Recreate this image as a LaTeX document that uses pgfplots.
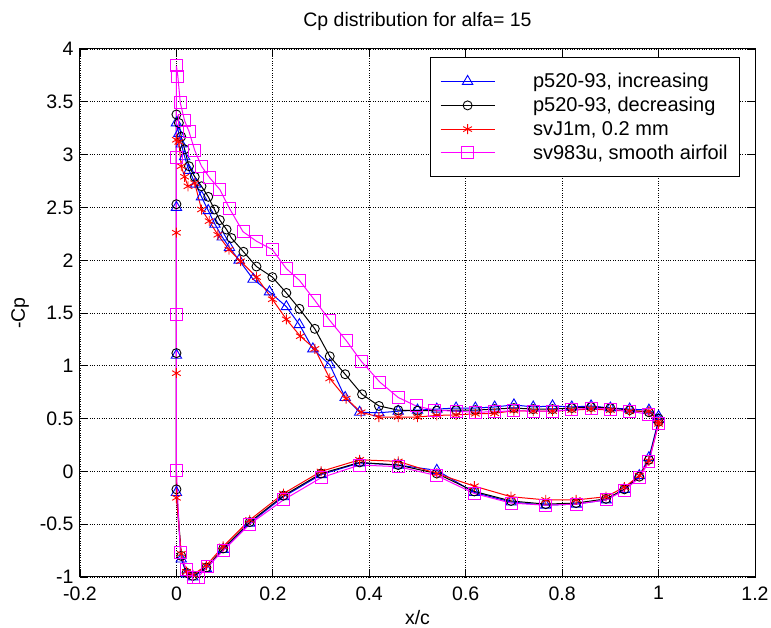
\documentclass[border=0pt]{standalone}
\usepackage{fontspec}
\setmainfont{Liberation Sans}
\usepackage{pgfplots}
\pgfplotsset{compat=1.18}
\definecolor{mag}{RGB}{255,0,255}
\begin{document}
\begin{tikzpicture}
\path[use as bounding box] (-80pt,-51pt) rectangle (691pt,577pt);
\begin{axis}[
  scale only axis, width=675pt, height=528pt,
  xmin=-0.2, xmax=1.2, ymin=-1, ymax=4,
  xtick={-0.2,0,0.2,0.4,0.6,0.8,1,1.2},
  ytick={-1,-0.5,0,0.5,1,1.5,2,2.5,3,3.5,4},
  grid=major, major grid style={black, dotted, line width=0.9pt},
  tick align=inside, major tick length=8pt,
  axis line style={line width=1pt},
  every tick/.style={black, line width=0.8pt},
  font=\fontsize{19.5}{23}\selectfont,
  ticklabel style={font=\fontsize{19.5}{23}\selectfont},
  xticklabel style={yshift=-6pt},
  yticklabel style={xshift=-3pt},
  /pgf/number format/assume math mode=true,
  title={Cp distribution for alfa= 15},
  title style={yshift=9pt},
  xlabel={x/c}, ylabel={-Cp},
  xlabel style={yshift=-3pt},
  ylabel style={yshift=4pt},
  legend style={at={(0.978,0.985)}, anchor=north east, draw=black, line width=1pt,
    font=\fontsize{20}{23}\selectfont, row sep=4pt, inner xsep=10pt, inner ysep=14pt},
  legend cell align=left,
  legend image code/.code={\draw[mark repeat=2,mark phase=2] plot coordinates {(0pt,0pt) (27pt,0pt) (54pt,0pt)};},
  every axis plot/.append style={line width=1pt},
]
\addplot[blue, mark=triangle, mark size=6pt, mark options={solid, line width=0.9pt}] coordinates {
(1.0,0.52)(0.98,0.58)(0.94,0.59)(0.90,0.60)(0.86,0.62)(0.82,0.61)(0.78,0.62)(0.74,0.61)(0.70,0.63)(0.66,0.61)(0.62,0.60)(0.58,0.60)(0.54,0.59)(0.50,0.58)(0.46,0.57)(0.42,0.555)(0.38,0.56)(0.35,0.70)(0.318,1.01)(0.283,1.16)(0.255,1.39)(0.228,1.56)(0.193,1.70)(0.159,1.82)(0.13,2.0)(0.11,2.12)(0.095,2.22)(0.08,2.34)(0.066,2.47)(0.052,2.60)(0.04,2.72)(0.026,2.85)(0.017,2.98)(0.01,3.1)(0.005,3.2)(0,3.3)(0,2.5)(0,1.1)(0,-0.2)
(0.01,-0.83)(0.021,-0.97)(0.034,-1.0)(0.062,-0.92)(0.097,-0.74)(0.152,-0.49)(0.222,-0.24)(0.30,-0.03)(0.38,0.08)(0.46,0.06)(0.54,0.01)(0.618,-0.20)(0.694,-0.29)(0.766,-0.32)(0.829,-0.31)(0.891,-0.27)(0.929,-0.17)(0.96,-0.04)(0.98,0.13)(1.0,0.49)};
\addlegendentry{\hspace{36pt}p520-93, increasing}
\addplot[black, mark=o, mark size=4.5pt, mark options={solid, line width=0.9pt}] coordinates {
(1.0,0.50)(0.98,0.56)(0.94,0.58)(0.90,0.60)(0.86,0.61)(0.82,0.60)(0.78,0.59)(0.74,0.59)(0.70,0.60)(0.66,0.59)(0.62,0.58)(0.58,0.58)(0.54,0.575)(0.50,0.575)(0.46,0.58)(0.42,0.62)(0.385,0.73)(0.35,0.92)(0.318,1.09)(0.287,1.35)(0.255,1.54)(0.228,1.69)(0.199,1.84)(0.166,1.94)(0.139,2.08)(0.114,2.21)(0.104,2.29)(0.09,2.38)(0.079,2.48)(0.066,2.60)(0.052,2.70)(0.038,2.79)(0.026,2.89)(0.017,3.05)(0.01,3.17)(0.005,3.30)(0,3.38)(0,2.53)(0,1.12)(0,-0.17)
(0.01,-0.80)(0.021,-0.96)(0.034,-0.99)(0.062,-0.91)(0.097,-0.73)(0.152,-0.48)(0.222,-0.23)(0.30,-0.02)(0.38,0.085)(0.46,0.06)(0.54,-0.02)(0.618,-0.19)(0.694,-0.28)(0.766,-0.31)(0.829,-0.30)(0.891,-0.26)(0.929,-0.17)(0.96,-0.05)(0.98,0.11)(1.0,0.47)};
\addlegendentry{\hspace{36pt}p520-93, decreasing}
\addplot[red, mark=asterisk, mark size=5pt, mark options={solid, line width=0.9pt}] coordinates {
(1.0,0.47)(0.98,0.57)(0.94,0.57)(0.90,0.58)(0.86,0.59)(0.82,0.58)(0.78,0.57)(0.74,0.57)(0.70,0.575)(0.66,0.55)(0.62,0.545)(0.58,0.535)(0.54,0.53)(0.50,0.515)(0.46,0.515)(0.42,0.515)(0.383,0.56)(0.352,0.69)(0.318,0.88)(0.287,1.16)(0.257,1.28)(0.228,1.44)(0.199,1.63)(0.166,1.84)(0.133,1.99)(0.109,2.10)(0.086,2.24)(0.068,2.37)(0.052,2.48)(0.038,2.73)(0.024,2.70)(0.017,2.79)(0.01,2.89)(0.005,3.12)(0,3.14)(0,2.26)(0,0.93)(0,-0.25)
(0.01,-0.78)(0.021,-0.95)(0.034,-0.98)(0.062,-0.89)(0.097,-0.71)(0.152,-0.46)(0.222,-0.21)(0.30,0.0)(0.38,0.11)(0.46,0.095)(0.54,-0.02)(0.618,-0.14)(0.694,-0.24)(0.766,-0.27)(0.829,-0.27)(0.891,-0.24)(0.929,-0.15)(0.96,-0.04)(0.98,0.10)(1.0,0.45)};
\addlegendentry{\hspace{36pt}svJ1m, 0.2 mm}
\addplot[mag, mark=square, mark size=6pt, mark options={solid, line width=0.9pt}] coordinates {
(1.0,0.45)(0.98,0.54)(0.94,0.57)(0.90,0.59)(0.86,0.60)(0.82,0.585)(0.78,0.57)(0.74,0.57)(0.70,0.575)(0.66,0.565)(0.62,0.56)(0.58,0.57)(0.535,0.58)(0.497,0.62)(0.46,0.70)(0.422,0.845)(0.383,1.045)(0.352,1.24)(0.318,1.43)(0.287,1.62)(0.255,1.81)(0.228,1.92)(0.199,2.10)(0.166,2.18)(0.138,2.27)(0.11,2.49)(0.09,2.67)(0.069,2.78)(0.052,2.89)(0.038,3.04)(0.026,3.22)(0.017,3.32)(0.008,3.49)(0.003,3.74)(0,3.84)(0,2.97)(0,1.49)(0,0.01)
(0.008,-0.77)(0.02,-0.93)(0.035,-1.0)(0.045,-1.0)(0.065,-0.90)(0.097,-0.75)(0.152,-0.50)(0.222,-0.27)(0.30,-0.06)(0.38,0.06)(0.46,0.045)(0.54,-0.04)(0.618,-0.21)(0.694,-0.30)(0.766,-0.32)(0.829,-0.31)(0.891,-0.27)(0.929,-0.18)(0.96,-0.06)(0.98,0.09)(1.0,0.45)};
\addlegendentry{\hspace{36pt}sv983u, smooth airfoil}
\end{axis}
\end{tikzpicture}
\end{document}
